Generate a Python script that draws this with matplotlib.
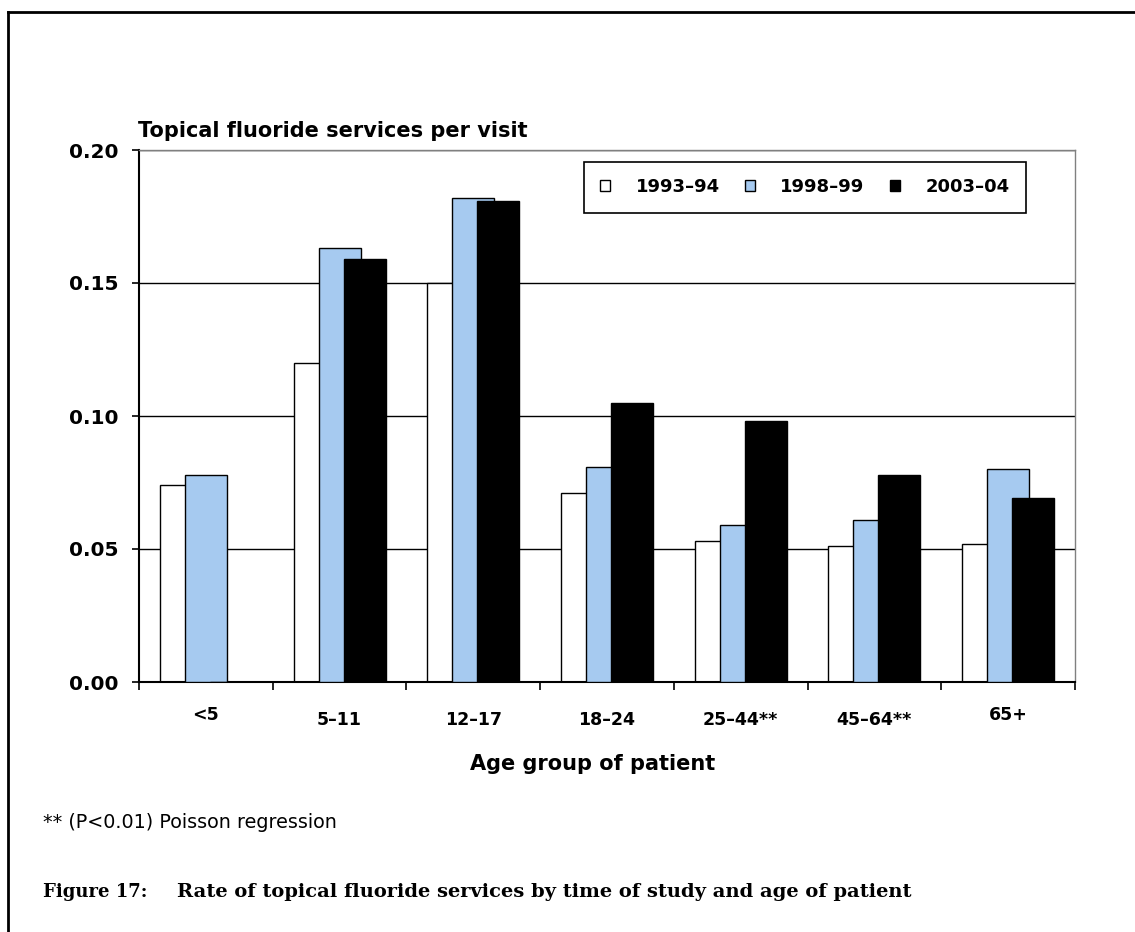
import numpy as np
import matplotlib
matplotlib.use("Agg")
import matplotlib.pyplot as plt
import matplotlib.transforms as mtransforms
from matplotlib.lines import Line2D

plt.rcParams['font.family'] = ['DejaVu Sans']

# data
age_groups = ["<5", "5\u201311", "12\u201317", "18\u201324", "25\u201344**", "45\u201364**", "65+"]
series_names = ["1993\u201394", "1998\u201399", "2003\u201304"]
rate_1993 = [0.074, 0.120, 0.150, 0.071, 0.053, 0.051, 0.052]
rate_1998 = [0.078, 0.163, 0.182, 0.081, 0.059, 0.061, 0.080]
rate_2003 = [0.0, 0.159, 0.181, 0.105, 0.098, 0.078, 0.069]
y_ticks = [0.00, 0.05, 0.10, 0.15, 0.20]

W, H = 1135, 932
fig = plt.figure(figsize=(W / 100, H / 100), dpi=100)

def fx(px):
    return px / W

def fy(py):
    return 1 - py / H

ax = fig.add_axes([fx(139), fy(682), fx(1075) - fx(139), fy(150) - fy(682)])

x = np.arange(len(age_groups))
bar_w = 0.314
step = 0.187
colors = ["white", "#A6CAF0", "black"]
for i, (vals, col, name) in enumerate(zip([rate_1993, rate_1998, rate_2003], colors, series_names)):
    ax.bar(x + (i - 1) * step, vals, width=bar_w, color=col, edgecolor="black",
           linewidth=1.0, label=name, zorder=2 + i)

ax.set_xlim(-0.5, len(age_groups) - 0.5)
ax.set_ylim(0, 0.20)
ax.set_yticks(y_ticks)
ax.set_yticklabels([f"{v:.2f}" for v in y_ticks], fontsize=14.5, fontweight="bold")
ax.yaxis.grid(True, color="black", linewidth=1.0)
ax.set_axisbelow(True)

ax.set_xticks(x)
ax.set_xticklabels(age_groups, fontsize=12.5, fontweight="bold")
ax.set_xticks(np.arange(-0.5, len(age_groups)), minor=True)
ax.tick_params(axis="x", which="major", length=0, pad=21)
ax.tick_params(axis="x", which="minor", length=6, width=1.2, direction="out")
ax.tick_params(axis="y", length=5, width=1.2, direction="out", pad=10)

# the short labels sit a little higher in the original
for lbl in ax.get_xticklabels():
    if lbl.get_text() in ("<5", "65+"):
        lbl.set_transform(lbl.get_transform() + mtransforms.ScaledTranslation(0, 5 / 100, fig.dpi_scale_trans))

for s in ["top", "right"]:
    ax.spines[s].set_color("#808080")
    ax.spines[s].set_linewidth(1.0)
for s in ["left", "bottom"]:
    ax.spines[s].set_color("black")
    ax.spines[s].set_linewidth(1.5)

leg = ax.legend(loc="upper left", bbox_to_anchor=(fx(584), fy(162)), bbox_transform=fig.transFigure,
                ncol=3, frameon=True, fancybox=False, edgecolor="black", framealpha=1,
                prop={"size": 13, "weight": "bold"}, handlelength=0.55, handleheight=0.55,
                handletextpad=1.4, columnspacing=1.42, borderpad=0.9, borderaxespad=0)
leg.get_frame().set_linewidth(1.2)

fig.text(fx(138), fy(131), "Topical fluoride services per visit", fontsize=15,
         fontweight="bold", ha="left", va="center")
fig.text(fx(593), fy(764), "Age group of patient", fontsize=15, fontweight="bold",
         ha="center", va="center")
fig.text(fx(43), fy(822), "** (P<0.01) Poisson regression", fontsize=13.8, ha="left", va="center")
fig.text(fx(43), fy(892), "Figure 17:", fontsize=13, fontweight="bold", family="DejaVu Serif",
         ha="left", va="center")
fig.text(fx(177), fy(892), "Rate of topical fluoride services by time of study and age of patient",
         fontsize=14, fontweight="bold", family="DejaVu Serif", ha="left", va="center")

# page border (top and left only)
fig.add_artist(Line2D([fx(8), 1], [fy(12), fy(12)], color="black", linewidth=2, transform=fig.transFigure))
fig.add_artist(Line2D([fx(8), fx(8)], [fy(12), 0], color="black", linewidth=2, transform=fig.transFigure))

fig.savefig("out.png", dpi=100)
